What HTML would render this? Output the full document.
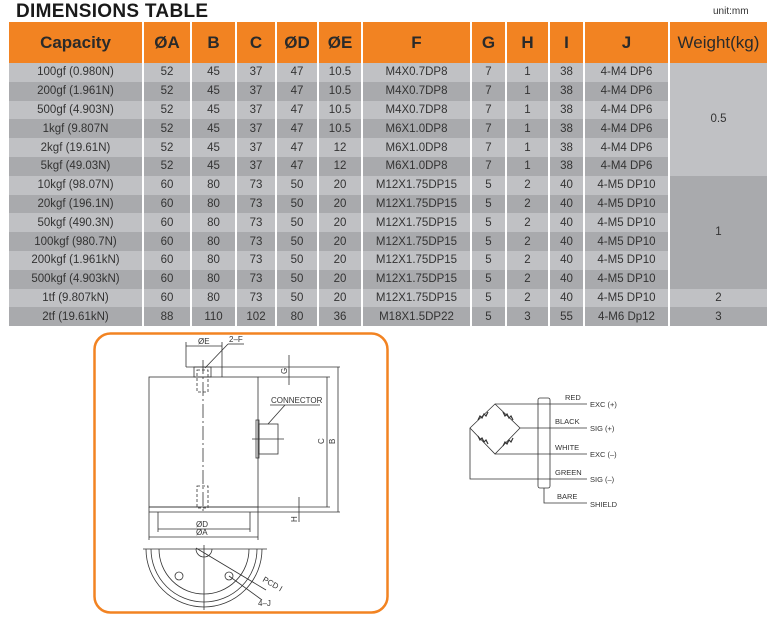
<!DOCTYPE html>
<html><head><meta charset="utf-8"><style>
body{margin:0;width:775px;height:627px;background:#fff;font-family:"Liberation Sans",sans-serif;position:relative;overflow:hidden}
.t{position:absolute;left:7px;top:22px;border-collapse:collapse;font-size:11.5px;color:#333}
.t td{border-left:2px solid #fff;border-right:2px solid #fff;padding:0;text-align:center;height:18.8px;line-height:18px}
.t th{background:#f28322;color:#2a2a2a;font-size:17px;font-weight:bold;height:41px;border-left:2px solid #fff;border-right:2px solid #fff;padding:0}
.l td{background:#c0c1c4}.d td{background:#a9aaad}
td.wl{background:#c0c1c4!important}td.wd{background:#a9aaad!important}
</style></head><body>
<div style="position:absolute;left:16px;top:1px;font-weight:bold;font-size:19px;color:#1a1a1a;letter-spacing:0.3px">DIMENSIONS TABLE</div>
<div style="position:absolute;left:713px;top:6px;font-size:10px;color:#333">unit:mm</div>
<table class="t">
<tr><th style="width:133px">Capacity</th><th style="width:46px">ØA</th><th style="width:43px">B</th><th style="width:38px">C</th><th style="width:40px">ØD</th><th style="width:42px">ØE</th><th style="width:107px">F</th><th style="width:33px">G</th><th style="width:41px">H</th><th style="width:33px">I</th><th style="width:83px">J</th><th style="width:97px;font-weight:normal">Weight(kg)</th></tr>
<tr class="l"><td>100gf (0.980N)</td><td>52</td><td>45</td><td>37</td><td>47</td><td>10.5</td><td>M4X0.7DP8</td><td>7</td><td>1</td><td>38</td><td>4-M4 DP6</td><td rowspan="6" class="wl">0.5</td></tr>
<tr class="d"><td>200gf (1.961N)</td><td>52</td><td>45</td><td>37</td><td>47</td><td>10.5</td><td>M4X0.7DP8</td><td>7</td><td>1</td><td>38</td><td>4-M4 DP6</td></tr>
<tr class="l"><td>500gf (4.903N)</td><td>52</td><td>45</td><td>37</td><td>47</td><td>10.5</td><td>M4X0.7DP8</td><td>7</td><td>1</td><td>38</td><td>4-M4 DP6</td></tr>
<tr class="d"><td>1kgf (9.807N</td><td>52</td><td>45</td><td>37</td><td>47</td><td>10.5</td><td>M6X1.0DP8</td><td>7</td><td>1</td><td>38</td><td>4-M4 DP6</td></tr>
<tr class="l"><td>2kgf (19.61N)</td><td>52</td><td>45</td><td>37</td><td>47</td><td>12</td><td>M6X1.0DP8</td><td>7</td><td>1</td><td>38</td><td>4-M4 DP6</td></tr>
<tr class="d"><td>5kgf (49.03N)</td><td>52</td><td>45</td><td>37</td><td>47</td><td>12</td><td>M6X1.0DP8</td><td>7</td><td>1</td><td>38</td><td>4-M4 DP6</td></tr>
<tr class="l"><td>10kgf (98.07N)</td><td>60</td><td>80</td><td>73</td><td>50</td><td>20</td><td>M12X1.75DP15</td><td>5</td><td>2</td><td>40</td><td>4-M5 DP10</td><td rowspan="6" class="wd">1</td></tr>
<tr class="d"><td>20kgf (196.1N)</td><td>60</td><td>80</td><td>73</td><td>50</td><td>20</td><td>M12X1.75DP15</td><td>5</td><td>2</td><td>40</td><td>4-M5 DP10</td></tr>
<tr class="l"><td>50kgf (490.3N)</td><td>60</td><td>80</td><td>73</td><td>50</td><td>20</td><td>M12X1.75DP15</td><td>5</td><td>2</td><td>40</td><td>4-M5 DP10</td></tr>
<tr class="d"><td>100kgf (980.7N)</td><td>60</td><td>80</td><td>73</td><td>50</td><td>20</td><td>M12X1.75DP15</td><td>5</td><td>2</td><td>40</td><td>4-M5 DP10</td></tr>
<tr class="l"><td>200kgf (1.961kN)</td><td>60</td><td>80</td><td>73</td><td>50</td><td>20</td><td>M12X1.75DP15</td><td>5</td><td>2</td><td>40</td><td>4-M5 DP10</td></tr>
<tr class="d"><td>500kgf (4.903kN)</td><td>60</td><td>80</td><td>73</td><td>50</td><td>20</td><td>M12X1.75DP15</td><td>5</td><td>2</td><td>40</td><td>4-M5 DP10</td></tr>
<tr class="l"><td>1tf (9.807kN)</td><td>60</td><td>80</td><td>73</td><td>50</td><td>20</td><td>M12X1.75DP15</td><td>5</td><td>2</td><td>40</td><td>4-M5 DP10</td><td class="wl">2</td></tr>
<tr class="d"><td>2tf (19.61kN)</td><td>88</td><td>110</td><td>102</td><td>80</td><td>36</td><td>M18X1.5DP22</td><td>5</td><td>3</td><td>55</td><td>4-M6 Dp12</td><td class="wd">3</td></tr>
</table>
<svg width="775" height="627" style="position:absolute;left:0;top:0" font-family="Liberation Sans,sans-serif" font-size="8" fill="none" stroke="#333" stroke-width="0.8">
<rect x="94.5" y="333.5" width="293" height="279" rx="16" stroke="#f28322" stroke-width="2.5"/>
<rect x="149" y="377" width="109" height="130"/>
<line x1="186" y1="367" x2="340" y2="367"/><line x1="258" y1="377" x2="330" y2="377"/>
<rect x="194" y="367" width="17" height="10"/>
<rect x="197" y="370" width="11" height="22" stroke-dasharray="3,2"/>
<rect x="197" y="486" width="11" height="22" stroke-dasharray="3,2"/>
<line x1="203" y1="360" x2="203" y2="512" stroke-dasharray="14,3,2,3"/>
<line x1="186" y1="342" x2="186" y2="367"/><line x1="222" y1="342" x2="222" y2="377"/>
<line x1="186" y1="346" x2="222" y2="346"/>
<line x1="205" y1="368" x2="228" y2="344"/><line x1="228" y1="344" x2="244" y2="344"/>
<text x="198" y="344" fill="#333" stroke="none">ØE</text><text x="229" y="342" fill="#333" stroke="none">2–F</text>
<line x1="149" y1="507" x2="330" y2="507"/><line x1="149" y1="512" x2="340" y2="512"/>
<line x1="158" y1="512" x2="158" y2="532"/><line x1="250" y1="512" x2="250" y2="532"/>
<line x1="149" y1="507" x2="149" y2="540"/><line x1="258" y1="507" x2="258" y2="540"/>
<line x1="158" y1="529" x2="250" y2="529"/><line x1="149" y1="537" x2="258" y2="537"/>
<text x="196" y="527" fill="#333" stroke="none">ØD</text><text x="196" y="535" fill="#333" stroke="none">ØA</text>
<line x1="327" y1="377" x2="327" y2="507"/><line x1="338" y1="367" x2="338" y2="512"/>
<text x="0" y="0" fill="#333" stroke="none" transform="translate(324,444) rotate(-90)">C</text>
<text x="0" y="0" fill="#333" stroke="none" transform="translate(335,444) rotate(-90)">B</text>
<line x1="289" y1="355" x2="289" y2="385"/><text x="0" y="0" fill="#333" stroke="none" transform="translate(287,374) rotate(-90)">G</text>
<line x1="299" y1="497" x2="299" y2="522"/><text x="0" y="0" fill="#333" stroke="none" transform="translate(297,522) rotate(-90)">H</text>
<rect x="256" y="420" width="3" height="38"/><rect x="259" y="424" width="19" height="30"/>
<line x1="252" y1="439" x2="284" y2="439"/>
<line x1="268" y1="424" x2="285" y2="405"/><line x1="270" y1="405" x2="320" y2="405"/>
<text x="271" y="403" fill="#333" stroke="none">CONNECTOR</text>
<line x1="143" y1="549" x2="267" y2="549"/>
<path d="M146 549 A58 58 0 0 0 262 549"/><path d="M151 549 A53 53 0 0 0 257 549"/><path d="M159 549 A45 45 0 0 0 249 549"/>
<path d="M196 549 A8 8 0 0 0 212 549"/>
<line x1="204" y1="545" x2="204" y2="610"/>
<circle cx="179" cy="576" r="4"/><circle cx="229" cy="576" r="4"/>
<line x1="196" y1="548" x2="266" y2="590"/><line x1="229" y1="576" x2="262" y2="600"/>
<text x="0" y="0" fill="#333" stroke="none" transform="translate(262,581) rotate(30)">PCD I</text>
<text x="258" y="606" fill="#333" stroke="none">4–J</text>
<path d="M470 428 L495 404 L520 428 L495 454 Z"/>
<g stroke-width="1.2">
<path d="M478 420 l2 -4 l2 2 l2 -4 l2 2 l2 -4"/>
<path d="M503 412 l2 4 l2 -2 l2 4 l2 -2 l2 4"/>
<path d="M478 436 l2 4 l2 -2 l2 4 l2 -2 l2 4"/>
<path d="M503 446 l2 -4 l2 2 l2 -4 l2 2 l2 -4"/>
</g>
<path d="M495 404 L587 404 M520 428 L587 428 M495 454 L587 454 M470 428 L470 479 L587 479 M544 488 L544 503 L587 503"/>
<rect x="538" y="398" width="12" height="90" rx="2"/>
<g fill="#333" stroke="none" font-size="7.5">
<text x="565" y="400">RED</text><text x="590" y="407">EXC (+)</text>
<text x="555" y="424">BLACK</text><text x="590" y="431">SIG (+)</text>
<text x="555" y="450">WHITE</text><text x="590" y="457">EXC (–)</text>
<text x="555" y="475">GREEN</text><text x="590" y="482">SIG (–)</text>
<text x="557" y="499">BARE</text><text x="590" y="507">SHIELD</text>
</g>
</svg>
</body></html>
